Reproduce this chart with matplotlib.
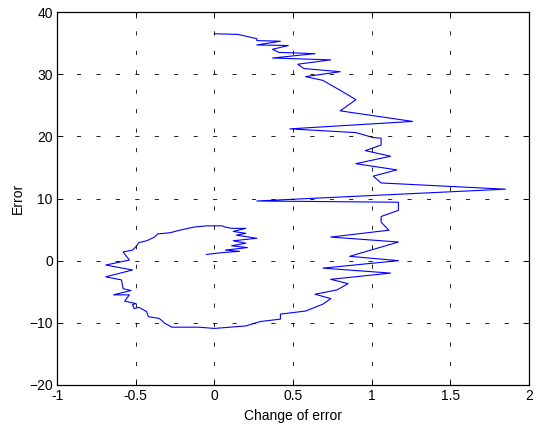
import matplotlib
matplotlib.use("Agg")
import matplotlib.pyplot as plt
import numpy as np

plt.rcParams['font.family'] = ['Liberation Sans', 'DejaVu Sans']
plt.rcParams['lines.scale_dashes'] = False

# change of error (x) vs error (y)
change_of_error = [
    0.00, 0.15, 0.27, 0.27, 0.42, 0.27, 0.47, 0.37, 0.41, 0.64,
    0.37, 0.74, 0.53, 0.57, 0.80, 0.58, 0.69, 0.80, 0.90, 0.80,
    1.26, 0.48, 0.90, 1.01, 1.06, 1.06, 0.96, 1.12, 0.90, 1.16,
    1.01, 1.06, 1.85, 0.27, 1.17, 1.17, 1.06, 1.06, 1.11, 0.74,
    1.17, 0.86, 1.17, 0.69, 1.12, 0.74, 0.85, 0.78, 0.64, 0.74,
    0.69, 0.58, 0.42, 0.42, 0.29, 0.20, 0.00, -0.10, -0.27, -0.32,
    -0.33, -0.35, -0.42, -0.43, -0.48, -0.51, -0.52, -0.50, -0.57, -0.54,
    -0.64, -0.53, -0.58, -0.59, -0.69, -0.52, -0.69, -0.54, -0.58, -0.52,
    -0.50, -0.48, -0.43, -0.38, -0.36, -0.28, -0.22, -0.13, -0.05, 0.05,
    0.07, 0.11, 0.20, 0.12, 0.20, 0.14, 0.27, 0.12, 0.20, 0.11,
    0.21, 0.07, 0.16, 0.05, -0.05,
]
error = [
    36.5, 36.4, 35.7, 35.4, 35.3, 34.7, 34.6, 34.0, 33.5, 33.3,
    32.6, 32.3, 31.6, 30.9, 30.4, 29.6, 29.0, 27.4, 25.9, 24.1,
    22.4, 21.2, 20.6, 19.8, 19.7, 18.6, 17.7, 16.8, 15.6, 14.6,
    13.6, 12.5, 11.5, 9.6, 9.4, 8.1, 7.1, 6.2, 4.9, 3.8,
    3.0, 0.7, 0.0, -1.2, -2.0, -3.0, -3.7, -4.7, -5.4, -6.1,
    -7.0, -8.1, -8.6, -9.4, -9.8, -10.5, -10.9, -10.7, -10.7, -10.0,
    -9.7, -9.3, -9.0, -8.2, -7.5, -7.7, -7.1, -6.9, -6.5, -5.5,
    -5.5, -4.8, -4.5, -3.1, -2.6, -1.5, -0.7, 0.1, 1.4, 1.7,
    2.2, 2.9, 3.2, 3.8, 4.3, 4.5, 4.9, 5.4, 5.6, 5.6,
    5.4, 5.2, 5.2, 4.7, 4.4, 4.1, 3.6, 3.2, 2.8, 2.4,
    2.1, 1.7, 1.5, 1.3, 1.0,
]

x_ticks = [-1, -0.5, 0, 0.5, 1, 1.5, 2]
x_labels = ['-1', '-0.5', '0', '0.5', '1', '1.5', '2']
y_ticks = [-20, -10, 0, 10, 20, 30, 40]

fig = plt.figure(figsize=(5.37, 4.28), dpi=100)
ax = fig.add_axes([57/537, 1 - 385/428, 472/537, 373/428])

ax.plot(change_of_error, error, color='#0000ff', linewidth=0.8)

ax.set_xlim(-1, 2)
ax.set_ylim(-20, 40)
ax.set_xticks(x_ticks)
ax.set_xticklabels(x_labels)
ax.set_yticks(y_ticks)
ax.grid(True, color='black', linewidth=0.6, linestyle=(0, (3, 11)))
ax.set_axisbelow(False)
ax.tick_params(direction='in', length=4, width=0.6, top=True, right=True,
               labelsize=10, pad=3)
for sp in ax.spines.values():
    sp.set_linewidth(0.9)

ax.set_xlabel('Change of error', fontsize=10, labelpad=4)
ax.set_ylabel('Error', fontsize=10, labelpad=3)

fig.savefig('out.png', dpi=100)
